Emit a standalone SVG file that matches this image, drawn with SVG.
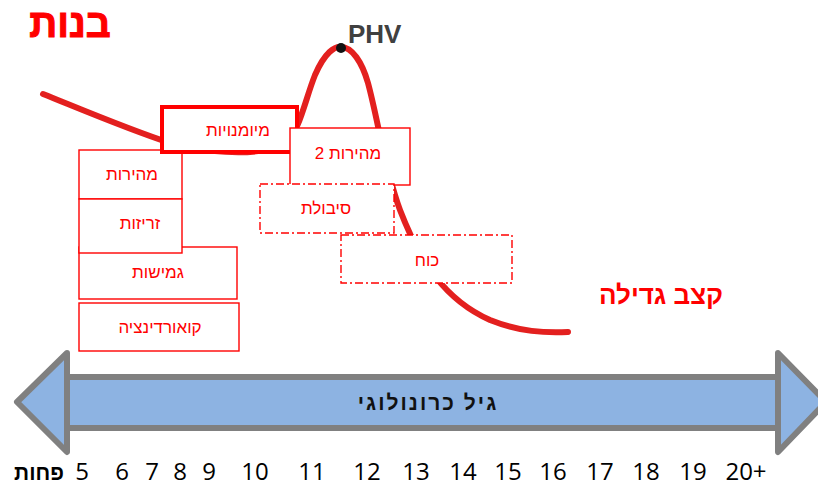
<svg xmlns="http://www.w3.org/2000/svg" width="818" height="486" viewBox="0 0 818 486">
<style>
.box{fill:#fff;stroke:#ff0000;stroke-width:1.4}
.thick{stroke-width:4}
.dd{stroke-dasharray:8 3 2 3}
.lbl{font-family:"Liberation Sans","DejaVu Sans",sans-serif;font-size:17px;fill:#ff0000;text-anchor:middle}
.num{font-family:"Open Sans","Liberation Sans",sans-serif;font-size:24px;fill:#000;text-anchor:middle}
.arr{fill:#8db3e2;stroke:#808080;stroke-width:6;stroke-linejoin:round}
</style>
<rect width="818" height="486" fill="#fff"/>
<g id="connectors">
<path id="growth-curve" d="M43,94 C90,113 130,130 170,143 C200,151 250,158 285,145 C300,130 305,100 315,75 C325,52 335,46 341,47 C352,47 362,62 368,83 C378,120 385,170 400,210 C420,262 445,300 490,320 C520,332 545,333 568,332" fill="none" stroke="#e3201f" stroke-width="6" stroke-linecap="round"/>
</g>
<g id="title"><text x="70" y="37" font-family="Liberation Sans,DejaVu Sans,sans-serif" font-weight="bold" font-size="39" fill="#ff0000" stroke="#ff0000" stroke-width="1" text-anchor="middle" direction="rtl">בנות</text></g>
<g id="phv">
<circle cx="341" cy="48" r="5" fill="#111"/>
<text x="348" y="43" font-family="Liberation Sans,sans-serif" font-weight="bold" font-size="26" fill="#404040">PHV</text>
</g>
<g id="gmishut"><rect class="box" x="79" y="247" width="158" height="52"/><text class="lbl" x="158" y="278" direction="rtl">גמישות</text></g>
<g id="coordination"><rect class="box" x="79" y="303" width="160" height="48"/><text class="lbl" x="160" y="333" direction="rtl">קואורדינציה</text></g>
<g id="mehirut"><rect class="box" x="79" y="150" width="103" height="49"/><text class="lbl" x="132" y="180" direction="rtl">מהירות</text></g>
<g id="zrizut"><rect class="box" x="79" y="199" width="103" height="54"/><text class="lbl" x="140" y="229" direction="rtl">זריזות</text></g>
<g id="miyumanuyot"><rect class="box thick" x="162" y="107" width="135" height="45"/><text class="lbl" x="238" y="136" direction="rtl">מיומנויות</text></g>
<g id="mehirut2"><rect class="box" x="290" y="128" width="120" height="57"/><text class="lbl" x="348" y="159" direction="rtl">מהירות 2</text></g>
<g id="sibolet"><rect class="box dd" x="260" y="184" width="134" height="49"/><text class="lbl" x="326" y="214" direction="rtl">סיבולת</text></g>
<g id="koach"><rect class="box dd" x="341" y="235" width="171" height="48"/><text class="lbl" x="427" y="266" direction="rtl">כוח</text></g>
<g id="growth-rate"><text x="661" y="304" font-family="Liberation Sans,DejaVu Sans,sans-serif" font-weight="bold" font-size="26" fill="#ff0000" text-anchor="middle" direction="rtl">קצב גדילה</text></g>
<g id="age-axis">
<rect class="arr" x="67" y="377" width="711" height="51"/>
<polygon class="arr" points="67,353 17,402 67,452"/>
<polygon class="arr" points="778,353 826,402 778,452"/>
<text x="428" y="410" font-family="Liberation Sans,DejaVu Sans,sans-serif" font-weight="bold" font-size="21" letter-spacing="2" fill="#111" text-anchor="middle" direction="rtl">גיל כרונולוגי</text>
</g>
<g id="ages">
<text x="39" y="480" font-family="Liberation Sans,DejaVu Sans,sans-serif" font-weight="bold" font-size="21" fill="#000" text-anchor="middle" direction="rtl">פחות</text>
<text class="num" x="82" y="480">5</text>
<text class="num" x="122" y="480">6</text>
<text class="num" x="152" y="480">7</text>
<text class="num" x="180" y="480">8</text>
<text class="num" x="209" y="480">9</text>
<text class="num" x="255" y="480">10</text>
<text class="num" x="312" y="480">11</text>
<text class="num" x="367" y="480">12</text>
<text class="num" x="416" y="480">13</text>
<text class="num" x="463" y="480">14</text>
<text class="num" x="508" y="480">15</text>
<text class="num" x="553" y="480">16</text>
<text class="num" x="600" y="480">17</text>
<text class="num" x="646" y="480">18</text>
<text class="num" x="693" y="480">19</text>
<text class="num" x="746" y="480">20+</text>
</g>
</svg>
